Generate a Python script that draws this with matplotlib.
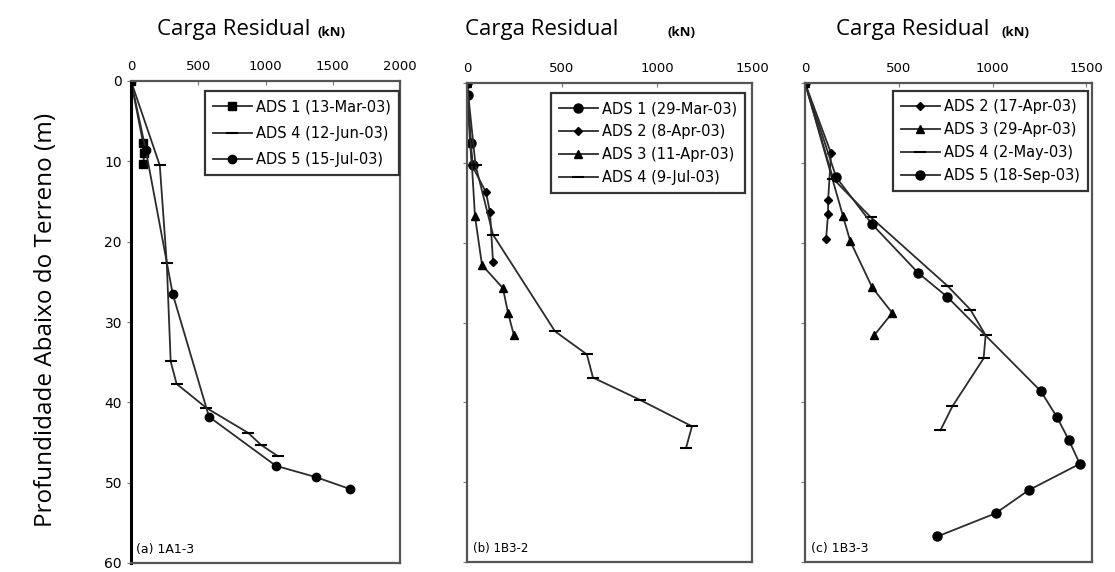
import numpy as np
import matplotlib as mpl
mpl.use('Agg')
import matplotlib.pyplot as plt

# ---- data (load kN, depth m) ----
# (a) 1A1-3
a_ads1_load = [0, 90, 100, 90]
a_ads1_depth = [0, 7.7, 9.0, 10.3]
a_ads4_load = [0, 214, 266, 295, 339, 561, 871, 967, 1092]
a_ads4_depth = [0, 10.5, 22.7, 34.9, 37.7, 40.7, 43.8, 45.3, 46.7]
a_ads5_load = [0, 110, 310, 580, 1077, 1373, 1630]
a_ads5_depth = [0, 8.6, 26.5, 41.8, 47.9, 49.3, 50.8]

# (b) 1B3-2
b_ads1_load = [0, 5, 20, 30]
b_ads1_depth = [0, 1.5, 7.5, 10.3]
b_ads2_load = [0, 16, 26, 100, 121, 137]
b_ads2_depth = [0, 7.5, 10.3, 13.7, 16.2, 22.4]
b_ads3_load = [0, 42, 79, 189, 216, 247]
b_ads3_depth = [0, 16.7, 22.8, 25.7, 28.8, 31.6]
b_ads4_load = [0, 45, 137, 463, 631, 663, 911, 1184, 1153]
b_ads4_depth = [0, 10.3, 19.0, 31.1, 34.0, 36.9, 39.7, 43.0, 45.7]

# (c) 1B3-3
c_ads2_load = [0, 139, 123, 123, 112]
c_ads2_depth = [0, 8.8, 14.7, 16.4, 19.6]
c_ads3_load = [0, 203, 241, 358, 465, 369]
c_ads3_depth = [0, 16.7, 19.8, 25.6, 28.8, 31.6]
c_ads4_load = [0, 150, 350, 759, 882, 963, 952, 786, 722]
c_ads4_depth = [0, 12.0, 16.8, 25.4, 28.4, 31.6, 34.5, 40.5, 43.5]
c_ads5_load = [0, 166, 358, 604, 759, 1257, 1342, 1406, 1465, 1193, 1016, 706]
c_ads5_depth = [0, 11.8, 17.7, 23.8, 26.8, 38.6, 41.8, 44.7, 47.7, 51.0, 53.9, 56.8]

LC = '#2b2b2b'
lw = 1.3

fig = plt.figure(figsize=(11.15, 5.72), dpi=100)
W, H = 1115., 572.


def make_ax(l, r, t, b):
    return fig.add_axes([l / W, 1 - b / H, (r - l) / W, (b - t) / H])


axa = make_ax(131, 400, 81, 563)
axb = make_ax(467, 752, 83, 562)
axc = make_ax(805, 1092, 83, 562)

for ax, xmax, xt in [(axa, 2000, [0, 500, 1000, 1500, 2000]),
                     (axb, 1500, [0, 500, 1000, 1500]),
                     (axc, 1530, [0, 500, 1000, 1500])]:
    ax.set_xlim(0, xmax)
    ax.set_ylim(60, 0)
    ax.set_xticks(xt)
    ax.set_yticks(np.arange(0, 61, 10))
    ax.xaxis.tick_top()
    ax.tick_params(axis='x', direction='in', length=3, color='#777777', labelsize=9.5, pad=6)
    ax.tick_params(axis='y', direction='out', length=3, color='#777777', labelsize=10)
    for s in ax.spines.values():
        s.set_color('#555555')
        s.set_linewidth(1.6)
axa.spines['left'].set_color('black')
axa.spines['left'].set_linewidth(2.2)
axb.set_yticklabels([])
axc.set_yticklabels([])

# (a)
axa.plot(a_ads1_load, a_ads1_depth, color=LC, lw=lw, marker='s', ms=5.5, mfc='black', mec='black', label='ADS 1 (13-Mar-03)')
axa.plot(a_ads4_load, a_ads4_depth, color=LC, lw=lw, marker='_', ms=8, mew=1.5, mec='black', label='ADS 4 (12-Jun-03)')
axa.plot(a_ads5_load, a_ads5_depth, color=LC, lw=lw, marker='o', ms=6, mfc='black', mec='black', label='ADS 5 (15-Jul-03)')

# (b)
axb.plot(b_ads1_load, b_ads1_depth, color=LC, lw=lw, marker='o', ms=6.5, mfc='black', mec='black', label='ADS 1 (29-Mar-03)')
axb.plot(b_ads2_load, b_ads2_depth, color=LC, lw=lw, marker='D', ms=4.5, mfc='black', mec='black', label='ADS 2 (8-Apr-03)')
axb.plot(b_ads3_load, b_ads3_depth, color=LC, lw=lw, marker='^', ms=6, mfc='black', mec='black', label='ADS 3 (11-Apr-03)')
axb.plot(b_ads4_load, b_ads4_depth, color=LC, lw=lw, marker='_', ms=8, mew=1.5, mec='black', label='ADS 4 (9-Jul-03)')

# (c)
axc.plot(c_ads2_load, c_ads2_depth, color=LC, lw=lw, marker='D', ms=4.5, mfc='black', mec='black', label='ADS 2 (17-Apr-03)')
axc.plot(c_ads3_load, c_ads3_depth, color=LC, lw=lw, marker='^', ms=6, mfc='black', mec='black', label='ADS 3 (29-Apr-03)')
axc.plot(c_ads4_load, c_ads4_depth, color=LC, lw=lw, marker='_', ms=8, mew=1.5, mec='black', label='ADS 4 (2-May-03)')
axc.plot(c_ads5_load, c_ads5_depth, color=LC, lw=lw, marker='o', ms=6.5, mfc='black', mec='black', label='ADS 5 (18-Sep-03)')

# legends
for ax, anchor, sp in [(axa, (0.995, 0.979), 0.8), (axb, (0.975, 0.979), 0.55), (axc, (0.985, 0.983), 0.55)]:
    leg = ax.legend(loc='upper right', bbox_to_anchor=anchor, fancybox=False, framealpha=1,
                    edgecolor='#333333', fontsize=10.5, labelspacing=sp, handlelength=2.7,
                    handletextpad=0.25, borderpad=0.55, borderaxespad=0)
    leg.get_frame().set_linewidth(1.6)

# panel labels
axa.text(0.02, 0.015, '(a) 1A1-3', transform=axa.transAxes, fontsize=9, ha='left', va='bottom')
axb.text(0.02, 0.015, '(b) 1B3-2', transform=axb.transAxes, fontsize=8.5, ha='left', va='bottom')
axc.text(0.02, 0.015, '(c) 1B3-3', transform=axc.transAxes, fontsize=9, ha='left', va='bottom')

# titles
for x0, x1 in [(157, 318), (465, 667), (836, 1002)]:
    fig.text(x0 / W, 1 - 30 / H, 'Carga Residual', family='Open Sans', fontsize=16, ha='left', va='center')
    fig.text(x1 / W, 1 - 32 / H, '(kN)', family='Open Sans', fontsize=9.5, fontweight='bold', ha='left', va='center')

fig.text(46 / W, 1 - 320 / H, 'Profundidade Abaixo do Terreno (m)', family='Open Sans', fontsize=17.5,
         rotation=90, ha='center', va='center')

fig.savefig('out.png', dpi=100)
plt.close()
